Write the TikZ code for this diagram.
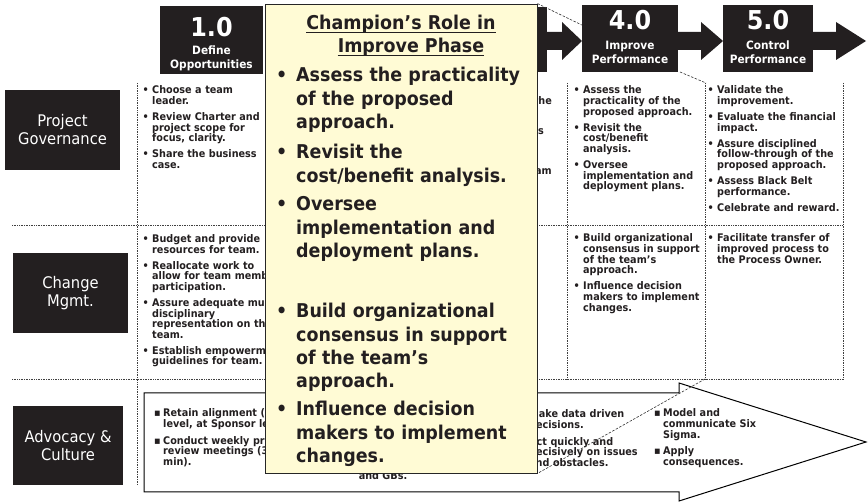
\documentclass[tikz,border=0pt]{standalone}
\usepackage{fontspec}
\setmainfont{DejaVu Sans}[FakeStretch=0.92]
\definecolor{blk}{HTML}{231F20}
\definecolor{popbg}{HTML}{FFFBD5}
\definecolor{txt}{HTML}{231F20}
\newcommand\itm{\makebox[9.5pt][l]{•}}
\newcommand\ind{\hspace*{9.5pt}}
\newcommand\sqb{\makebox[9pt][l]{▪}}
\newcommand\sqi{\hspace*{9pt}}
\newcommand\pitm{\makebox[20pt][l]{•}}
\newcommand\pind{\hspace*{20pt}}
\tikzset{
  hbox/.style={fill=blk, inner sep=0pt},
  rowbox/.style={fill=blk, inner sep=0pt, text=white, align=center, font=\fontsize{16}{18}\selectfont},
  num/.style={text=white, inner sep=0pt, font=\bfseries\fontsize{26}{28}\selectfont},
  sub/.style={text=white, inner sep=0pt, align=center, font=\bfseries\fontsize{11.5}{14}\selectfont},
  cell/.style={anchor=base west, inner sep=0pt, text width=170pt, align=left, text=txt, font=\bfseries\fontsize{10.5}{10.6}\selectfont},
  pop/.style={anchor=base west, inner sep=0pt, text width=262pt, align=left, text=txt, font=\bfseries\fontsize{19}{23.3}\selectfont},
  grid/.style={densely dotted, line width=0.7pt, draw=black!75},
  callout/.style={dashed, dash pattern=on 2.5pt off 1.5pt, line width=0.6pt, draw=black!80},
  harrow/.style={fill=blk},
}
\begin{document}
\begin{tikzpicture}[x=1pt,y=-1pt]
\useasboundingbox (0,0) rectangle (868,502);
\fill[white] (0,0) rectangle (868,502);

% grid
\draw[grid] (12,225) -- (843,225);
\draw[grid] (12,379) -- (843,379);
\draw[grid] (137,83) -- (137,485);
\draw[grid] (567,83) -- (567,379);
\draw[grid] (705,83) -- (705,379);
\draw[grid] (843,83) -- (843,379);

% header boxes
\node[hbox, minimum width=103pt, minimum height=68pt] (b1) at (211.5,40) {};
\node[num] (n1) at (211.5,27) {1.0};
\node[sub] (s1) at (211.5,58) {Define\\Opportunities};
\node[hbox, minimum width=17pt, minimum height=65pt] (b3) at (538.5,39.5) {};
\node[hbox, minimum width=96pt, minimum height=67pt] (b4) at (630,38.5) {};
\node[num] (n4) at (630,20) {4.0};
\node[sub] (s4) at (630,52) {Improve\\Performance};
\node[hbox, minimum width=90pt, minimum height=67pt] (b5) at (768,38.5) {};
\node[num] (n5) at (768,20) {5.0};
\node[sub] (s5) at (768,52) {Control\\Performance};

\fill[harrow] (537,32) -- (562,32) -- (562,22) -- (582,41) -- (562,60) -- (562,50) -- (537,50) -- cycle;
\fill[harrow] (678,32) -- (701,32) -- (701,22) -- (723,41) -- (701,60) -- (701,50) -- (678,50) -- cycle;
\fill[harrow] (813,32) -- (836,32) -- (836,22) -- (866,41) -- (836,60) -- (836,50) -- (813,50) -- cycle;

% row headers
\node[rowbox, minimum width=115pt, minimum height=80pt] (r1) at (62.5,130) {Project\\Governance};
\node[rowbox, minimum width=115pt, minimum height=80pt] (r2) at (70.5,293) {Change\\Mgmt.};
\node[rowbox, minimum width=110pt, minimum height=79pt] (r3) at (68,445.5) {Advocacy \&\\Culture};

% row 1 cells
\node[cell] (c11) at (142.5,94) {\itm Choose a team\\ \ind leader.\\[5.5pt]
\itm Review Charter and\\ \ind project scope for\\ \ind focus, clarity.\\[5.5pt]
\itm Share the business\\ \ind case.};
\node[cell] (c14) at (573.5,94) {\itm Assess the\\ \ind practicality of the\\ \ind proposed approach.\\[5.5pt]
\itm Revisit the\\ \ind cost/benefit\\ \ind analysis.\\[5.5pt]
\itm Oversee\\ \ind implementation and\\ \ind deployment plans.};
\node[cell] (c15) at (707.5,94) {\itm Validate the\\ \ind improvement.\\[5.5pt]
\itm Evaluate the financial\\ \ind impact.\\[5.5pt]
\itm Assure disciplined\\ \ind follow-through of the\\ \ind proposed approach.\\[5.5pt]
\itm Assess Black Belt\\ \ind performance.\\[5.5pt]
\itm Celebrate and reward.};

% row 2 cells
\node[cell] (c21) at (142.5,242.5) {\itm Budget and provide\\ \ind resources for team.\\[5.5pt]
\itm Reallocate work to\\ \ind allow for team memb\\ \ind participation.\\[5.5pt]
\itm Assure adequate mul\\ \ind disciplinary\\ \ind representation on th\\ \ind team.\\[5.5pt]
\itm Establish empowerm\\ \ind guidelines for team.};
\node[cell] (c24) at (573.5,242) {\itm Build organizational\\ \ind consensus in support\\ \ind of the team’s\\ \ind approach.\\[5.5pt]
\itm Influence decision\\ \ind makers to implement\\ \ind changes.};
\node[cell] (c25) at (707.5,242) {\itm Facilitate transfer of\\ \ind improved process to\\ \ind the Process Owner.};

% row 3 outlined arrow
\draw[line width=1pt, fill=white] (144,393) -- (679,393) -- (679,383) -- (866,442) -- (679,501) -- (679,492) -- (144,492) -- cycle;
\node[cell] (c31) at (154,417) {\sqb Retain alignment (a\\ \sqi level, at Sponsor le\\[6pt]
\sqb Conduct weekly pr\\ \sqi review meetings (3\\ \sqi min).};
\node[cell] (c34) at (520,418) {\sqb Make data driven\\ \sqi decisions.\\[6pt]
\sqb Act quickly and\\ \sqi decisively on issues\\ \sqi and obstacles.};
\node[cell] (c35) at (654,417) {\sqb Model and\\ \sqi communicate Six\\ \sqi Sigma.\\[6pt]
\sqb Apply\\ \sqi consequences.};
\node[cell, anchor=base, text width=] (c33) at (383,480) {and GBs.};

% column 3 fragments
\node[cell, anchor=base east, text width=] (f1) at (552,105) {the};
\node[cell, anchor=base east, text width=] (f2) at (544,135) {is};
\node[cell, anchor=base east, text width=] (f3) at (552,175) {am};

% popup
\node[draw=black!85, line width=0.9pt, fill=popbg, minimum width=272pt, minimum height=469pt, inner sep=0pt] (popup) at (401,238.5) {};
\node[anchor=base, inner sep=0pt, text=txt, font=\bfseries\fontsize{19}{23}\selectfont] (t1) at (401,30) {Champion’s Role in};
\node[anchor=base, inner sep=0pt, text=txt, font=\bfseries\fontsize{19}{23}\selectfont] (t2) at (411,53) {Improve Phase};
\draw[line width=1.1pt, txt] ([yshift=-2.5pt]t1.base west) -- ([yshift=-2.5pt]t1.base east);
\draw[line width=1.1pt, txt] ([yshift=-2.5pt]t2.base west) -- ([yshift=-2.5pt]t2.base east);

\node[pop] (p1) at (276,82) {\pitm Assess the practicality\\ \pind of the proposed\\ \pind approach.};
\node[pop] (p2) at (276,159) {\pitm Revisit the\\ \pind cost/benefit analysis.};
\node[pop] (p3) at (276,211) {\pitm Oversee\\ \pind implementation and\\ \pind deployment plans.};
\node[pop] (p4) at (276,318) {\pitm Build organizational\\ \pind consensus in support\\ \pind of the team’s\\ \pind approach.};
\node[pop] (p5) at (276,416) {\pitm Influence decision\\ \pind makers to implement\\ \pind changes.};

% callout lines
\draw[callout] (popup.north east) -- (b4.north west |- 0,25);
\draw[callout] (680,72) -- (706,83);
\draw[callout] (705,379) -- (popup.south east);
\end{tikzpicture}
\end{document}
